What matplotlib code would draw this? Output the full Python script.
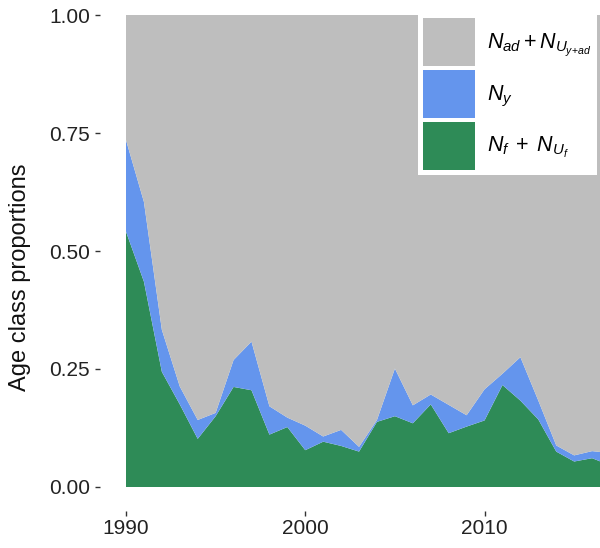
import matplotlib
matplotlib.use("Agg")
import matplotlib.pyplot as plt
from matplotlib.patches import Patch
import numpy as np

years = list(range(1990, 2018))
# cumulative top of the green band (N_f + N_Uf)
p_f = [0.541, 0.435, 0.244, 0.175, 0.102, 0.150, 0.212, 0.205, 0.111, 0.127,
       0.078, 0.096, 0.087, 0.075, 0.138, 0.150, 0.135, 0.175, 0.114, 0.128,
       0.141, 0.216, 0.183, 0.143, 0.075, 0.054, 0.061, 0.046]
# cumulative top of the blue band (N_f + N_Uf + N_y)
p_fy = [0.735, 0.604, 0.333, 0.213, 0.142, 0.157, 0.269, 0.308, 0.171, 0.147,
        0.130, 0.107, 0.121, 0.085, 0.142, 0.251, 0.173, 0.196, 0.174, 0.152,
        0.207, 0.240, 0.275, 0.183, 0.088, 0.067, 0.076, 0.072]

prop_f = np.array(p_f)
prop_y = np.array(p_fy) - np.array(p_f)
prop_ad = 1.0 - np.array(p_fy)

labels = [r"$N_{ad}+N_{U_{y\!+\!ad}}$", r"$N_y$", r"$N_f\;+\;N_{U_f}$"]
colors = ["#BEBEBE", "#6495ED", "#2E8B57"]

plt.rcParams['font.family'] = ['Liberation Sans', 'DejaVu Sans']
plt.rcParams['mathtext.fontset'] = 'custom'
plt.rcParams['mathtext.it'] = 'Liberation Sans:italic'
plt.rcParams['mathtext.rm'] = 'Liberation Sans'

PX = 72 / 100  # points per pixel

fig = plt.figure(figsize=(6.0, 5.48), dpi=100)
ax = fig.add_axes([126 / 600, 61 / 548, 1 - 126 / 600, (487 - 15) / 548])

ax.stackplot(years, prop_f, prop_y, prop_ad,
             colors=[colors[2], colors[1], colors[0]], linewidth=0)

ax.set_xlim(1990, 2016.44)
ax.set_ylim(0, 1)
ax.set_xticks([1990, 2000, 2010])
ax.set_yticks([0, 0.25, 0.5, 0.75, 1.0])
ax.set_yticklabels(["0.00", "0.25", "0.50", "0.75", "1.00"])

for s in ax.spines.values():
    s.set_visible(False)
ax.spines['left'].set_position(('outward', 26 * PX))
ax.spines['bottom'].set_position(('outward', 24 * PX))
ax.tick_params(axis='both', direction='out', length=5 * PX, width=1,
               color='#333333', labelcolor='#222222', labelsize=15)
ax.tick_params(axis='y', pad=5 * PX)
ax.tick_params(axis='x', pad=3 * PX)
ax.set_ylabel("Age class proportions", fontsize=17, color='#111111')
ax.yaxis.set_label_coords((31 - 126) / 474, 0.445)

handles = [Patch(facecolor=c, edgecolor='none') for c in colors]
fs = 15.5
fpt = fs
key_h = 48 * PX  # points
key_w = 52 * PX
hh = (key_h / fpt - 0.245) / 0.65
leg = fig.legend(handles, labels, loc='upper left',
                 bbox_to_anchor=(418 / 600, 1 - 13 / 548),
                 bbox_transform=fig.transFigure,
                 frameon=True, fancybox=False, framealpha=1,
                 facecolor='white', edgecolor='none',
                 fontsize=fs, handlelength=key_w / fpt, handleheight=hh,
                 labelspacing=4 * PX / fpt, borderpad=5 * PX / fpt,
                 handletextpad=12 * PX / fpt, borderaxespad=0)

fig.savefig("out.png", dpi=100)
